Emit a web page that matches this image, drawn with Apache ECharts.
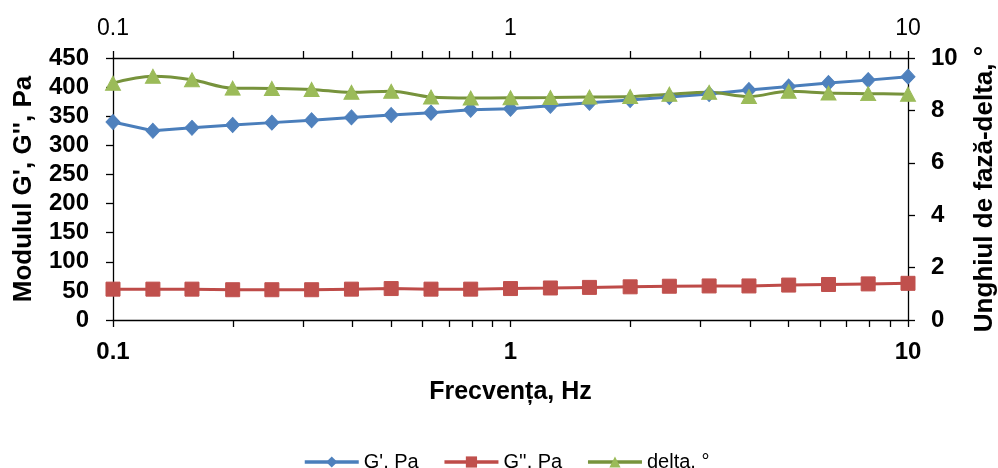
<!DOCTYPE html>
<html>
<head>
<meta charset="utf-8">
<script src="https://cdn.jsdelivr.net/npm/echarts@6/dist/echarts.min.js"></script>
<style>html,body{margin:0;padding:0;background:#fff}#c{width:998px;height:468px}</style>
</head>
<body>
<div id="c"></div>
<script>
const freq = [0.1, 0.126, 0.158, 0.2, 0.251, 0.316, 0.398, 0.501, 0.631, 0.794, 1, 1.26, 1.58, 2, 2.51, 3.16, 3.98, 5.01, 6.31, 7.94, 10];
const gPrime = [340, 325, 330, 335, 339, 343, 348, 352, 356, 361, 363, 368, 373, 378, 383, 388, 395, 401, 407, 412, 418];
const gDouble = [53, 53, 53, 52, 52, 52, 53, 54, 53, 53, 54, 55, 56, 57, 58, 58.5, 58.5, 60, 61, 62, 63];
const delta = [9.04, 9.30, 9.17, 8.85, 8.84, 8.80, 8.69, 8.73, 8.51, 8.47, 8.48, 8.49, 8.51, 8.53, 8.62, 8.69, 8.53, 8.73, 8.66, 8.64, 8.62];
const minorTicks = [0.2, 0.3, 0.4, 0.5, 0.6, 0.7, 0.8, 0.9, 2, 3, 4, 5, 6, 7, 8, 9];
const seriesNames = ["G', Pa", "G'', Pa", "delta, °"];
const xName = 'Frecvența, Hz';
const yLeftName = "Modulul G', G'', Pa";
const yRightName = 'Unghiul de fază-delta, °';
const yLeftMax = 450, yRightMax = 10;

const FF = 'Liberation Sans, Arial, sans-serif';
const zip = (xs, ys) => xs.map((x, i) => [x, ys[i]]);
const fmt = v => String(+(+v).toPrecision(3));
const axLine = () => ({show: true, onZero: false, lineStyle: {color: '#000', width: 1.3}});
const axTick = () => ({show: true, inside: false, length: 7, lineStyle: {color: '#000', width: 1.3}});

const chart = echarts.init(document.getElementById('c'), null, {renderer: 'canvas'});
chart.setOption({
  animation: false,
  backgroundColor: '#fff',
  grid: {left: 113, right: 90, top: 58, bottom: 148, containLabel: false, outerBoundsMode: 'none'},
  legend: {
    data: seriesNames,
    left: 298, top: 447,
    itemWidth: 54, itemHeight: 14, itemGap: 24,
    lineStyle: {width: 3.5},
    textStyle: {fontFamily: FF, fontSize: 20, color: '#000'}
  },
  xAxis: [{
    type: 'log', logBase: 10, min: 0.1, max: 10, position: 'bottom',
    name: xName, nameLocation: 'middle', nameGap: 60,
    nameTextStyle: {fontFamily: FF, fontSize: 25, fontWeight: 'bold', color: '#000'},
    axisLine: axLine(),
    axisTick: axTick(),
    axisLabel: {fontFamily: FF, fontSize: 24, fontWeight: 'bold', color: '#000', margin: 20, formatter: fmt},
    splitLine: {show: false}, minorTick: {show: false}
  }, {
    type: 'log', logBase: 10, min: 0.1, max: 10, position: 'top',
    axisLine: axLine(),
    axisTick: axTick(),
    axisLabel: {fontFamily: 'Liberation Sans Narrow, Arial Narrow, ' + FF, fontSize: 23, color: '#000', margin: 18, formatter: fmt},
    splitLine: {show: false}
  }],
  yAxis: [{
    type: 'value', min: 0, max: yLeftMax, interval: 50, position: 'left',
    name: yLeftName, nameLocation: 'middle', nameGap: 76, nameRotate: 90,
    nameTextStyle: {fontFamily: FF, fontSize: 26, fontWeight: 'bold', color: '#000'},
    axisLine: axLine(),
    axisTick: axTick(),
    axisLabel: {fontFamily: FF, fontSize: 24, fontWeight: 'bold', color: '#000', margin: 24},
    splitLine: {show: false}
  }, {
    type: 'value', min: 0, max: yRightMax, interval: 2, position: 'right',
    name: yRightName, nameLocation: 'middle', nameGap: 64, nameRotate: 90,
    nameTextStyle: {fontFamily: FF, fontSize: 26, fontWeight: 'bold', color: '#000'},
    axisLine: axLine(),
    axisTick: axTick(),
    axisLabel: {fontFamily: FF, fontSize: 24, fontWeight: 'bold', color: '#000', margin: 23},
    splitLine: {show: false}
  }],
  series: [{
    name: seriesNames[0], type: 'line', xAxisIndex: 0, yAxisIndex: 0,
    data: zip(freq, gPrime),
    symbol: 'diamond', symbolSize: [14, 15],
    lineStyle: {color: '#4A7EBB', width: 3},
    itemStyle: {color: '#4F81BD', borderColor: '#4F81BD'}
  }, {
    name: seriesNames[1], type: 'line', xAxisIndex: 0, yAxisIndex: 0,
    data: zip(freq, gDouble),
    symbol: 'rect', symbolSize: 14,
    lineStyle: {color: '#BE4B48', width: 3},
    itemStyle: {color: '#C0504D', borderColor: '#C0504D'}
  }, {
    name: seriesNames[2], type: 'line', xAxisIndex: 0, yAxisIndex: 1,
    data: zip(freq, delta),
    smooth: 0.35,
    symbol: 'triangle', symbolSize: [15, 14],
    lineStyle: {color: '#77933C', width: 3},
    itemStyle: {color: '#9BBB59', borderColor: '#9BBB59'}
  }, {
    name: 'minorTicks', type: 'custom', xAxisIndex: 0, yAxisIndex: 0,
    silent: true, clip: false,
    data: minorTicks.map(v => [v, 0]),
    encode: {x: 0, y: 1},
    renderItem: function (params, api) {
      const x = Math.round(api.coord([api.value(0), 0])[0]) + 0.5;
      const yb = api.coord([api.value(0), 0])[1];
      const yt = api.coord([api.value(0), yLeftMax])[1];
      return {
        type: 'group',
        children: [
          {type: 'line', shape: {x1: x, y1: yb, x2: x, y2: yb + 7}, style: {stroke: '#000', lineWidth: 1.3}},
          {type: 'line', shape: {x1: x, y1: yt, x2: x, y2: yt - 7}, style: {stroke: '#000', lineWidth: 1.3}}
        ]
      };
    }
  }]
});
</script>
</body>
</html>
